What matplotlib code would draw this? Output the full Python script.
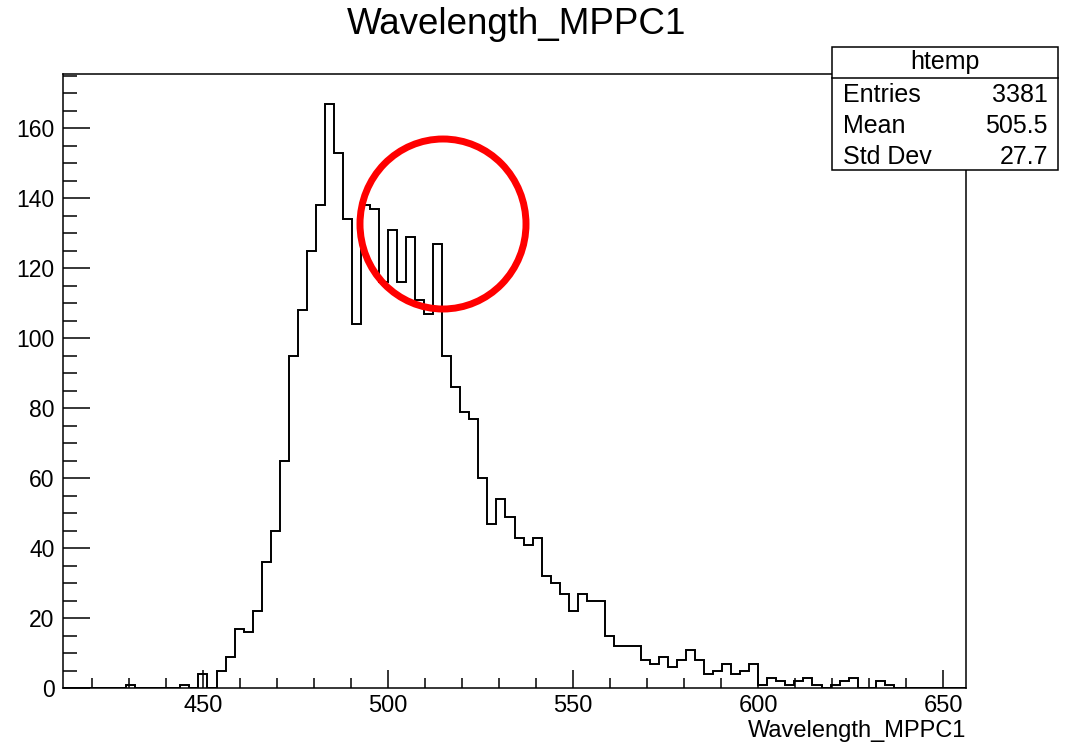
import numpy as np
import matplotlib
matplotlib.use('Agg')
import matplotlib.pyplot as plt
from matplotlib.ticker import MultipleLocator
from matplotlib.patches import Rectangle, Ellipse
from matplotlib.lines import Line2D

plt.rcParams['font.family'] = ['Liberation Sans', 'DejaVu Sans']

# histogram binning (100 bins, as produced for htemp)
x_min, x_max, n_bins = 412.2, 656.2, 100

# bin contents, bin 0 .. bin 99
counts = [
    0, 0, 0, 0, 0, 0, 0, 1, 0, 0,
    0, 0, 0, 1, 0, 4, 0, 5, 9, 17,
    16, 22, 36, 45, 65, 95, 108, 125, 138, 167,
    153, 134, 104, 138, 137, 116, 131, 116, 129, 111,
    107, 127, 95, 86, 79, 77, 60, 47, 54, 49,
    43, 41, 43, 32, 30, 27, 22, 27, 25, 25,
    15, 12, 12, 12, 8, 7, 9, 6, 8, 11,
    8, 4, 5, 7, 4, 5, 7, 1, 3, 2,
    1, 2, 3, 1, 0, 1, 2, 3, 0, 0,
    2, 1, 0, 0, 0, 0, 0, 0, 0, 0,
]

title = 'Wavelength_MPPC1'
hist_name = 'htemp'
stat_names = ['Entries', 'Mean', 'Std Dev']
stat_values = ['3381', '505.5', '27.7']

W, H = 1068, 744
fig = plt.figure(figsize=(W / 100, H / 100), dpi=100)
ax = fig.add_axes([63 / W, 1 - 688 / H, (966 - 63) / W, (688 - 74) / H])

edges = np.linspace(x_min, x_max, n_bins + 1)
ax.stairs(counts, edges, color='black', linewidth=1.4)

ax.set_xlim(x_min, x_max)
ax.set_ylim(0, 175.5)

ax.xaxis.set_major_locator(MultipleLocator(50))
ax.xaxis.set_minor_locator(MultipleLocator(10))
ax.yaxis.set_major_locator(MultipleLocator(20))
ax.yaxis.set_minor_locator(MultipleLocator(5))
ax.tick_params(axis='x', which='major', direction='in', length=13, width=1.1,
               labelsize=17, pad=5)
ax.tick_params(axis='x', which='minor', direction='in', length=7, width=1.1)
ax.tick_params(axis='y', which='major', direction='in', length=19.5, width=1.1,
               labelsize=16.5, pad=6)
ax.tick_params(axis='y', which='minor', direction='in', length=10, width=1.1)
for s in ax.spines.values():
    s.set_linewidth(1.1)

fig.text(517 / W, 1 - 24 / H, title, fontsize=26.5, ha='center', va='center')
fig.text(966 / W, 1 - 731 / H, title, fontsize=17, ha='right', va='center')

# stats box
bx0, bx1, by0, by1 = 832, 1058, 47, 170
fig.patches.append(Rectangle((bx0 / W, 1 - by1 / H), (bx1 - bx0) / W, (by1 - by0) / H,
                             transform=fig.transFigure, facecolor='white',
                             edgecolor='black', linewidth=1.1, zorder=5))
fig.lines.append(Line2D([bx0 / W, bx1 / W], [1 - 78 / H, 1 - 78 / H],
                        transform=fig.transFigure, color='black', linewidth=1.1, zorder=6))
fig.text((bx0 + bx1) / 2 / W, 1 - 62 / H, hist_name, fontsize=18,
         ha='center', va='center', zorder=7)
for i, (name, val) in enumerate(zip(stat_names, stat_values)):
    y = 1 - (95 + 31 * i) / H
    fig.text(843 / W, y, name, fontsize=18, ha='left', va='center', zorder=7)
    fig.text(1048 / W, y, val, fontsize=18, ha='right', va='center', zorder=7)

# red highlight circle
fig.patches.append(Ellipse((443 / W, 1 - 224 / H), 166 / W, 170 / H,
                           transform=fig.transFigure, fill=False,
                           edgecolor='#ff0000', linewidth=5, zorder=8))

fig.savefig('out.png', dpi=100)
